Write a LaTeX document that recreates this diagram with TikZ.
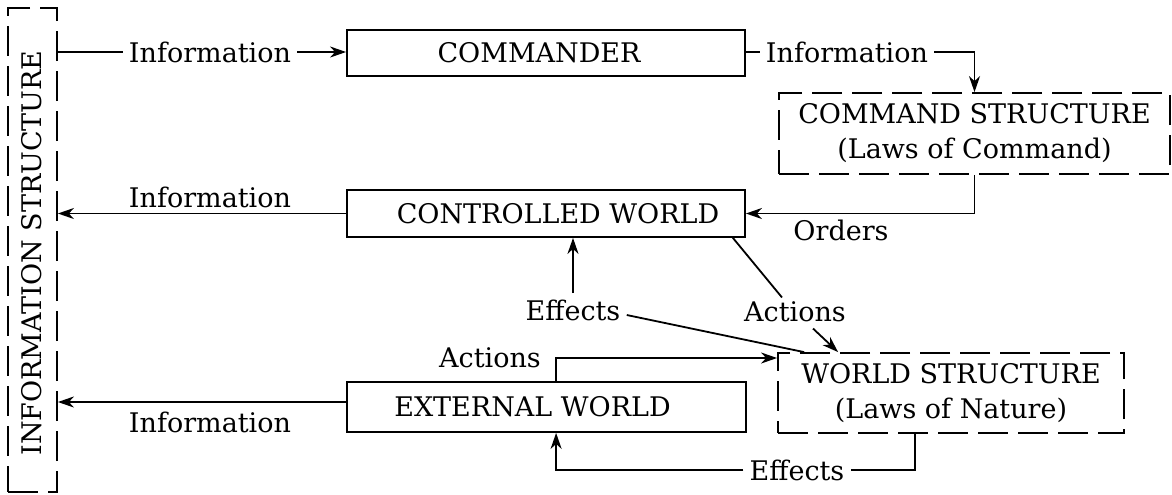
\documentclass[tikz,border=0pt]{standalone}
\usepackage{fontspec}
\setmainfont{DejaVu Serif}
\usetikzlibrary{arrows.meta,calc}
\begin{document}
\begin{tikzpicture}[x=0.5pt,y=-0.5pt,
  every node/.style={font=\fontsize{13.5}{17.5}\selectfont},
  line/.style={line width=0.9pt},
  arr/.style={line, -{Stealth[length=8pt,width=5.5pt,inset=2.5pt]}},
  box/.style={draw, line width=0.9pt, inner sep=0pt, align=center},
  dbox/.style={box, dash pattern=on 15pt off 5pt},
  lbl/.style={inner sep=3pt}]
\useasboundingbox (0,0) rectangle (1172,494);
% boxes
\node[dbox, minimum width=24.5pt, minimum height=242pt] (infos) at (32.5,250) {};
\node[rotate=90, inner sep=0pt] (infosT) at (32,253) {INFORMATION STRUCTURE};
\node[box, minimum width=199pt, minimum height=23pt] (commander) at (546,53) {COMMANDER\hspace*{7pt}};
\node[dbox, minimum width=195.5pt, minimum height=40.5pt] (cmdstruct) at (974.5,133.5) {COMMAND STRUCTURE\\(Laws of Command)};
\node[box, minimum width=199pt, minimum height=23.5pt] (controlled) at (546,213.5) {\hspace*{12pt}CONTROLLED WORLD};
\node[dbox, minimum width=173pt, minimum height=40pt] (worldstruct) at (951,393) {WORLD STRUCTURE\\(Laws of Nature)};
\node[box, minimum width=199.5pt, minimum height=25pt] (external) at (546.5,407) {EXTERNAL WORLD\hspace*{14pt}};
% labels
\node[lbl] (info1) at (210,52) {Information};
\node[lbl] (info2) at (847,52) {Information};
\node[lbl] (info3) at (210,197) {Information};
\node[lbl] (info4) at (210,422) {Information};
\node[lbl] (orders) at (841,230) {Orders};
\node[lbl] (eff1) at (573,310) {Effects};
\node[lbl] (act1) at (795,312) {Actions};
\node[lbl] (act2) at (490,358) {Actions};
\node[lbl] (eff2) at (797,470) {Effects};
% coordinates
\coordinate (extW) at ($(external.west)+(0,-5)$);
\coordinate (effE) at ($(eff1.east)+(0,5)$);
\coordinate (wsE) at ($(worldstruct.north west)+(27,0)$);
\coordinate (ctlA) at ($(controlled.south east)+(-13,0)$);
\coordinate (actTop) at ($(act1.north)+(-13,2)$);
\coordinate (actBot) at ($(act1.south)+(18,0)$);
\coordinate (wsA) at ($(worldstruct.north west)+(61,0)$);
\coordinate (extA) at ($(external.north west)+(210,0)$);
\coordinate (extB) at ($(external.south west)+(210,0)$);
\coordinate (wsB) at ($(worldstruct.south west)+(138,0)$);
% connectors
\draw[line] (infos.east |- info1) -- (info1.west);
\draw[arr] (info1.east) -- (commander.west |- info1);
\draw[line] (commander.east |- info2) -- (info2.west);
\draw[arr] (info2.east) -| (cmdstruct.north);
\draw[arr] (cmdstruct.south) |- (controlled.east);
\draw[arr] (controlled.west) -- (controlled.west -| infos.east);
\draw[arr] (extW) -- (extW -| infos.east);
\draw[arr] (eff1.north) -- (eff1.north |- controlled.south);
\draw[line] (effE) -- (wsE);
\draw[line] (ctlA) -- (actTop);
\draw[arr] (actBot) -- (wsA);
\draw[arr] (extA) |- (worldstruct.west |- act2);
\draw[line] (wsB) |- (eff2.east);
\draw[arr] (eff2.west) -| (extB);
\end{tikzpicture}
\end{document}
